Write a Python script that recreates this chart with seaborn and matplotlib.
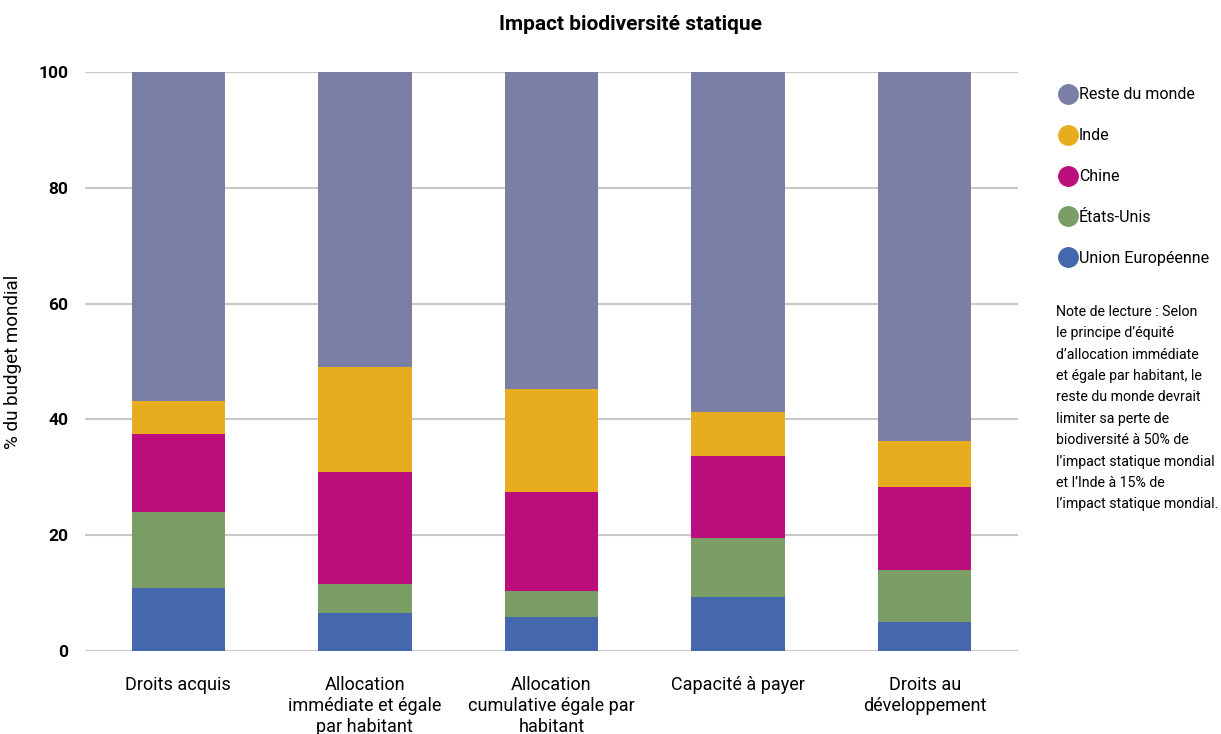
import pandas as pd
import matplotlib.pyplot as plt
import seaborn as sns
from matplotlib.lines import Line2D

# Data (% of world budget, segment sizes)
scenarios = ["Droits acquis", "Allocation\nimmédiate et égale\npar habitant",
             "Allocation\ncumulative égale par\nhabitant", "Capacité à payer",
             "Droits au\ndéveloppement"]
union_europeenne = [10.9, 6.6, 5.9, 9.3, 5.0]
etats_unis = [13.1, 5.0, 4.5, 10.2, 9.0]
chine = [13.5, 19.3, 17.1, 14.2, 14.3]
inde = [5.7, 18.2, 17.8, 7.6, 8.0]
reste_du_monde = [56.8, 50.9, 54.7, 58.7, 63.7]

series_names = ["Union Européenne", "États-Unis", "Chine", "Inde", "Reste du monde"]
series_values = [union_europeenne, etats_unis, chine, inde, reste_du_monde]
colors = ["#4567ad", "#7a9e66", "#bb0e7c", "#e8ac1f", "#7b7fa5"]

sns.set_style("white")
plt.rcParams["font.family"] = ["Roboto", "DejaVu Sans"]
plt.rcParams["text.color"] = "black"
plt.rcParams["axes.labelcolor"] = "black"
plt.rcParams["xtick.color"] = "black"
plt.rcParams["ytick.color"] = "black"

df = pd.DataFrame(dict(zip(series_names, series_values)), index=scenarios)
cum = df.cumsum(axis=1)

fig = plt.figure(figsize=(12.21, 7.34), dpi=100)
ax = fig.add_axes([85 / 1221, 1 - 651 / 734, (1018 - 85) / 1221, (651 - 72) / 734])

# draw cumulative totals from top to bottom so each layer shows its segment
for name, color in zip(series_names[::-1], colors[::-1]):
    sns.barplot(x=cum.index, y=cum[name].values, ax=ax, color=color,
                width=0.5, saturation=1, linewidth=0, zorder=3)

ax.set_xlim(-0.5, 4.5)
ax.set_ylim(0, 100)
ax.set_yticks([0, 20, 40, 60, 80, 100])
ax.yaxis.grid(True, color="#c8c8c8", linewidth=1.5, zorder=0)
ax.set_axisbelow(True)
for s in ax.spines.values():
    s.set_visible(False)
ax.tick_params(axis="y", length=0, pad=12, labelsize=12.5)
ax.tick_params(axis="x", length=0, pad=18, labelsize=13)
for lab in ax.get_yticklabels():
    lab.set_fontweight("bold")
ax.set_xlabel("")
ax.set_ylabel("% du budget mondial", fontsize=13.5)
ax.yaxis.set_label_coords(-63 / 933, 0.5)

fig.text(630 / 1221, 1 - 25 / 734, "Impact biodiversité statique",
         ha="center", va="center", fontsize=15, fontweight="bold")

handles = [Line2D([], [], marker="o", linestyle="", markersize=14,
                  markerfacecolor=c, markeredgecolor=c) for c in colors[::-1]]
fig.legend(handles, series_names[::-1], loc="upper left",
           bbox_to_anchor=(1050 / 1221, 1 - 81 / 734), frameon=False,
           fontsize=11.5, handletextpad=0.0, labelspacing=1.62,
           handlelength=1.4, borderaxespad=0)

note = ("Note de lecture : Selon\nle principe d’équité\nd’allocation immédiate\n"
        "et égale par habitant, le\nreste du monde devrait\nlimiter sa perte de\n"
        "biodiversité à 50% de\nl’impact statique mondial\net l’Inde à 15% de\n"
        "l’impact statique mondial.")
fig.text(1056 / 1221, 1 - 305 / 734, note, ha="left", va="top",
         fontsize=10.2, linespacing=1.67)

fig.savefig("out.png", dpi=100)
